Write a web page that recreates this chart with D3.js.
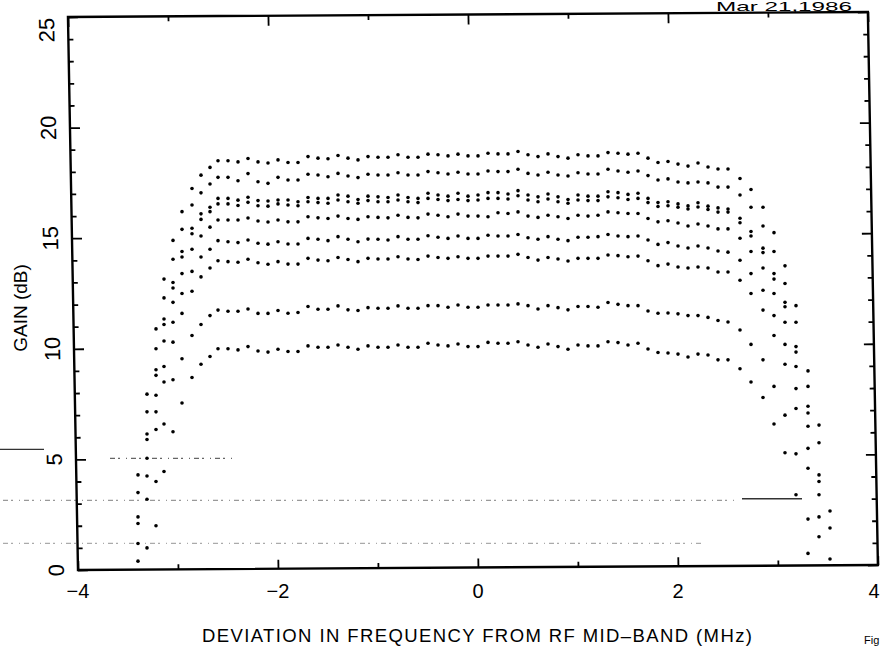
<!DOCTYPE html>
<html><head><meta charset="utf-8">
<script src="https://cdn.jsdelivr.net/npm/d3@7"></script>
<style>html,body{margin:0;padding:0;background:#fff;} svg{display:block;}</style>
</head><body>
<svg id="chart" width="886" height="648"></svg>
<script>
// Frequency deviation (MHz) of every measured point
const freqs = [
  -3.40, -3.31, -3.22, -3.14, -3.05, -2.96, -2.86, -2.77, -2.68,
  -2.6, -2.5, -2.4, -2.3, -2.2, -2.1, -2.0, -1.9, -1.8, -1.7, -1.6, -1.5, -1.4, -1.3, -1.2, -1.1,
  -1.0, -0.9, -0.8, -0.7, -0.6, -0.5, -0.4, -0.3, -0.2, -0.1,
  0.0, 0.1, 0.2, 0.3, 0.4, 0.5, 0.6, 0.7, 0.8, 0.9, 1.0, 1.1, 1.2, 1.3, 1.4, 1.5,
  1.6, 1.7, 1.8, 1.9, 2.0, 2.1, 2.2, 2.3, 2.4, 2.5,
  2.62, 2.73, 2.85, 2.96, 3.07, 3.18, 3.30, 3.41, 3.52
];
// Gain (dB) curves, top to bottom
const gainA = [4.3, 7.95, 10.9, 13.15, 14.9, 16.2, 17.25, 17.85, 18.2,
  18.50, 18.50, 18.45, 18.60, 18.45, 18.40, 18.54, 18.42, 18.42, 18.69, 18.62, 18.59, 18.74, 18.62, 18.54, 18.69,
  18.66, 18.66, 18.77, 18.66, 18.66, 18.80, 18.77, 18.72, 18.80, 18.72,
  18.72, 18.84, 18.81, 18.81, 18.92, 18.77, 18.69, 18.81, 18.69, 18.62, 18.77, 18.72, 18.72, 18.87, 18.84, 18.80,
  18.84, 18.62, 18.42, 18.47, 18.35, 18.26, 18.40, 18.22, 18.13, 18.13,
  17.7, 17.2, 16.4, 15.25, 13.75, 11.95, 9.0, 6.55, 2.67];
const gainB = [3.5, 7.15, 10.0, 12.3, 14.05, 15.4, 16.5, 17.05, 17.45,
  17.75, 17.75, 17.60, 17.92, 17.55, 17.48, 17.75, 17.63, 17.63, 17.89, 17.86, 17.78, 17.93, 17.81, 17.74, 17.89,
  17.86, 17.86, 17.96, 17.86, 17.86, 18.01, 17.96, 17.90, 17.98, 17.90,
  17.90, 18.04, 18.01, 18.01, 18.12, 17.93, 17.86, 17.98, 17.86, 17.81, 17.96, 17.90, 17.90, 18.12, 18.04, 17.98,
  18.04, 17.83, 17.63, 17.68, 17.54, 17.50, 17.54, 17.50, 17.31, 17.31,
  16.95, 16.4, 15.55, 14.4, 12.95, 11.2, 8.3, 5.75, 1.9];
const gainC = [2.4, 6.15, 9.05, 11.35, 13.0, 14.4, 15.45, 16.1, 16.4,
  16.80, 16.80, 16.72, 16.85, 16.70, 16.68, 16.73, 16.73, 16.65, 16.84, 16.80, 16.80, 16.95, 16.90, 16.75, 16.90,
  16.87, 16.84, 16.95, 16.84, 16.80, 17.03, 16.95, 16.90, 17.03, 16.90,
  16.95, 17.06, 17.06, 17.00, 17.15, 16.95, 16.87, 17.00, 16.87, 16.75, 16.95, 16.90, 16.90, 17.10, 17.06, 16.98,
  17.03, 16.80, 16.61, 16.65, 16.55, 16.46, 16.60, 16.45, 16.37, 16.32,
  15.9, 15.3, 14.55, 13.4, 12.1, 10.1, 7.4, 4.3, 0.5];
const gainD = [2.1, 5.9, 8.8, 11.1, 12.75, 14.15, 15.2, 15.85, 16.2,
  16.55, 16.55, 16.48, 16.62, 16.47, 16.45, 16.55, 16.50, 16.47, 16.65, 16.61, 16.58, 16.73, 16.65, 16.58, 16.70,
  16.65, 16.65, 16.73, 16.65, 16.61, 16.80, 16.75, 16.70, 16.75, 16.70,
  16.73, 16.80, 16.80, 16.77, 16.92, 16.73, 16.65, 16.77, 16.65, 16.58, 16.73, 16.70, 16.70, 16.87, 16.83, 16.75,
  16.80, 16.61, 16.43, 16.47, 16.40, 16.32, 16.41, 16.30, 16.18, 16.18,
  15.7, 15.1, 14.35, 13.15, 11.9, 9.85, 7.1, 4.0, null];
const gainE = [1.2, 5.05, 7.9, 10.35, 12.1, 13.4, 14.5, 15.1, 15.5,
  15.82, 15.82, 15.82, 15.91, 15.78, 15.73, 15.82, 15.74, 15.74, 15.97, 15.92, 15.89, 16.00, 15.89, 15.85, 15.97,
  15.94, 15.92, 16.04, 15.94, 15.92, 16.09, 16.04, 15.97, 16.09, 16.00,
  16.00, 15.97, 16.15, 16.12, 16.19, 16.00, 15.94, 16.04, 15.97, 15.89, 16.04, 16.00, 16.04, 16.19, 16.15, 16.12,
  16.12, 15.89, 15.74, 15.79, 15.69, 15.55, 15.64, 15.55, 15.42, 15.42,
  15.0, 14.4, 13.65, 12.5, 11.2, 9.2, 6.5, 3.4, null];
const gainF = [0.4, 4.25, 7.15, 9.2, 11.2, 12.5, 13.5, 14.15, 14.5,
  14.89, 14.84, 14.80, 14.92, 14.77, 14.73, 14.84, 14.74, 14.74, 14.99, 14.95, 14.89, 15.07, 14.95, 14.84, 14.96,
  14.95, 14.92, 15.07, 14.95, 14.95, 15.11, 15.04, 14.99, 15.10, 14.99,
  14.99, 15.13, 15.10, 15.10, 15.17, 15.02, 14.95, 15.07, 14.95, 14.89, 15.04, 15.04, 15.07, 15.17, 15.10, 15.07,
  15.10, 14.92, 14.72, 14.80, 14.65, 14.56, 14.65, 14.56, 14.42, 14.37,
  14.0, 13.4, 12.65, 11.5, 10.2, 8.2, 5.5, 2.4, null];
const gainG = [null, 3.2, 6.35, 8.5, 10.3, 11.6, 12.6, 13.25, 13.65,
  13.98, 13.94, 13.91, 14.05, 13.89, 13.82, 13.94, 13.83, 13.83, 14.09, 14.01, 13.98, 14.13, 14.04, 13.94, 14.09,
  14.06, 14.06, 14.16, 14.06, 14.04, 14.19, 14.13, 14.09, 14.16, 14.09,
  14.09, 14.19, 14.19, 14.19, 14.27, 14.13, 14.01, 14.13, 14.06, 13.97, 14.09, 14.09, 14.09, 14.24, 14.21, 14.16,
  14.19, 13.98, 13.76, 13.83, 13.70, 13.65, 13.70, 13.65, 13.47, 13.47,
  13.1, 12.5, 11.75, 10.6, 9.3, 7.3, 4.6, 1.5, null];
const gainH = [null, 1.0, 4.0, 6.6, 8.6, 9.55, 10.6, 11.1, 11.5,
  11.75, 11.70, 11.70, 11.80, 11.60, 11.60, 11.73, 11.61, 11.64, 11.91, 11.79, 11.79, 11.94, 11.76, 11.73, 11.86,
  11.83, 11.83, 11.94, 11.83, 11.83, 11.95, 11.95, 11.88, 11.98, 11.88,
  11.88, 11.98, 11.98, 11.98, 12.03, 11.95, 11.80, 11.95, 11.86, 11.76, 11.91, 11.91, 11.88, 12.09, 12.01, 11.95,
  11.95, 11.71, 11.61, 11.62, 11.58, 11.50, 11.50, 11.42, 11.28, 11.21,
  10.85, 10.2, 9.5, 8.3, 7.0, 5.25, 2.3, null, null];
const gainI = [null, null, 2.0, 4.45, 6.25, 7.55, 8.7, 9.3, 9.65,
  10.00, 10.00, 9.95, 10.10, 9.90, 9.85, 9.98, 9.88, 9.88, 10.13, 10.07, 10.07, 10.17, 10.07, 9.98, 10.13,
  10.07, 10.07, 10.17, 10.07, 10.07, 10.25, 10.17, 10.13, 10.22, 10.10,
  10.10, 10.29, 10.25, 10.25, 10.32, 10.17, 10.07, 10.22, 10.10, 9.98, 10.17, 10.13, 10.13, 10.32, 10.28, 10.17,
  10.25, 9.99, 9.83, 9.81, 9.76, 9.63, 9.76, 9.72, 9.50, 9.50,
  9.1, 8.5, 7.8, 6.6, 5.3, 3.4, 0.75, null, null];
const gainSeries = [gainA, gainB, gainC, gainD, gainE, gainF, gainG, gainH, gainI];

// faint noise-floor traces (dB level, start / end MHz, tone)
const floorLevels = [5.45, 5.05, 3.15, 3.22, 1.2];
const floorStart  = [-4.78, -3.68, -4.75, 2.64, -4.75];
const floorEnd    = [-4.34, -2.45, 2.60, 3.24, 2.25];
const floorTone   = ["#333", "#666", "#999", "#333", "#aaa"];

const xMajor = [-4, -2, 0, 2, 4];
const xMinor = [-3, -1, 1, 3];
const xTickLabels = ["\u22124", "\u22122", "0", "2", "4"];
const yMajor = [0, 5, 10, 15, 20, 25];
const yMinor = [1,2,3,4,6,7,8,9,11,12,13,14,16,17,18,19,21,22,23,24];
const yTickLabels = ["0", "5", "10", "15", "20", "25"];
const xTitle = "DEVIATION IN FREQUENCY FROM RF MID\u2013BAND (MHz)";
const yTitle = "GAIN (dB)";
const dateText = "Mar 21,1986";
const cornerText = "Fig";

const FONT = "'Liberation Sans', Arial, Helvetica, sans-serif";
const svg = d3.select("#chart");
const x = d3.scaleLinear().domain([-4, 4]).range([78, 878]);
const y = d3.scaleLinear().domain([0, 25]).range([570, 17]);

// faint traces
svg.append("g").selectAll("line").data(floorLevels).join("line")
  .attr("x1", (d, i) => x(floorStart[i])).attr("x2", (d, i) => x(floorEnd[i]))
  .attr("y1", d => y(d)).attr("y2", d => y(d))
  .attr("stroke", (d, i) => floorTone[i]).attr("stroke-width", 1.3)
  .attr("stroke-dasharray", (d, i) => (i === 0 || i === 3) ? null : "5,3,2,6,1,4");

// slightly sheared frame, as in the scanned original
const frame = svg.append("g")
  .attr("transform", "translate(78,570) skewX(1.04) skewY(-0.36) translate(-78,-570)");
frame.append("rect")
  .attr("x", x(-4)).attr("y", y(25)).attr("width", x(4) - x(-4)).attr("height", y(0) - y(25))
  .attr("fill", "none").attr("stroke", "#000").attr("stroke-width", 2.4);

function tickSet(axis, vals, size, tx, ty) {
  const g = frame.append("g").attr("transform", `translate(${tx},${ty})`)
    .call(axis.tickValues(vals).tickSize(size).tickFormat(""));
  g.select(".domain").remove();
  g.selectAll("text").remove();
  g.selectAll("line").attr("stroke", "#000").attr("stroke-width", 1.8);
}
tickSet(d3.axisBottom(x), xMajor, -9, 0, y(0));
tickSet(d3.axisBottom(x), xMinor, -5, 0, y(0));
tickSet(d3.axisTop(x), xMajor, -10, 0, y(25));
tickSet(d3.axisTop(x), xMinor, -5, 0, y(25));
tickSet(d3.axisLeft(y), yMajor, -10, x(-4), 0);
tickSet(d3.axisLeft(y), yMinor, -5, x(-4), 0);
tickSet(d3.axisRight(y), yMajor, -10, x(4), 0);
tickSet(d3.axisRight(y), yMinor, -5, x(4), 0);

// tick labels
svg.append("g").selectAll("text").data(xMajor).join("text")
  .attr("x", d => Math.min(x(d), 874)).attr("y", 598)
  .attr("text-anchor", "middle").attr("font-family", FONT).attr("font-size", 20)
  .text((d, i) => xTickLabels[i]);
frame.append("g").selectAll("text").data(yMajor).join("text")
  .attr("transform", d => `translate(64,${Math.max(y(d), 30)}) rotate(-90)`)
  .attr("text-anchor", "middle").attr("font-family", FONT).attr("font-size", 22)
  .text((d, i) => yTickLabels[i]);

// titles
svg.append("text").attr("x", 477).attr("y", 642).attr("text-anchor", "middle")
  .attr("font-family", FONT).attr("font-size", 18.5)
  .attr("textLength", 550).attr("lengthAdjust", "spacing").text(xTitle);
svg.append("text").attr("transform", "translate(27,308) rotate(-90)").attr("text-anchor", "middle")
  .attr("font-family", FONT).attr("font-size", 19).text(yTitle);
svg.append("text").attr("x", 716).attr("y", 11).attr("font-family", FONT).attr("font-size", 13)
  .attr("textLength", 136).attr("lengthAdjust", "spacingAndGlyphs").text(dateText);
svg.append("text").attr("x", 864).attr("y", 644).attr("font-family", FONT).attr("font-size", 11)
  .text(cornerText);

// measured points
const pts = [];
gainSeries.forEach((s, k) => s.forEach((v, i) => {
  if (v !== null && v >= 0) pts.push({ f: freqs[i], g: v, k });
}));
svg.append("g").selectAll("circle").data(pts).join("circle")
  .attr("cx", d => x(d.f)).attr("cy", d => y(d.g)).attr("r", 1.8).attr("fill", "#000");
</script>
</body></html>
